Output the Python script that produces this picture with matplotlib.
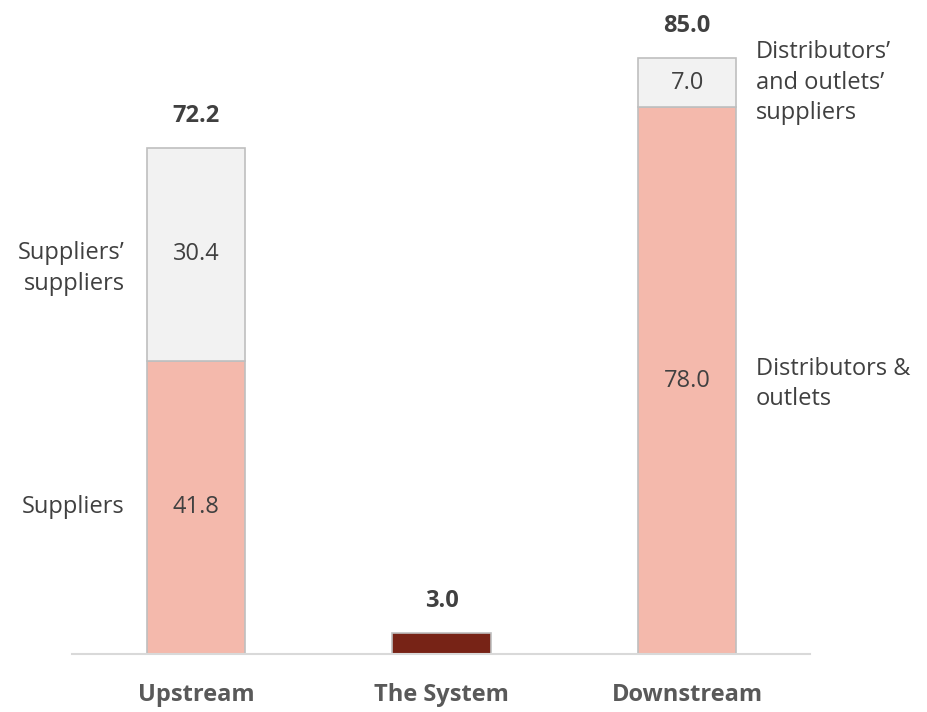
import matplotlib.pyplot as plt

plt.rcParams['font.family'] = ['Open Sans', 'DejaVu Sans']

categories = ['Upstream', 'The System', 'Downstream']
lower = [41.8, 3.0, 78.0]
upper = [30.4, 0.0, 7.0]
totals = [72.2, 3.0, 85.0]

salmon = '#F4B9AC'
light = '#F2F2F2'
dark = '#772316'
edge = '#BFBFBF'
txt = '#404040'

fig = plt.figure(figsize=(9.28, 7.12), dpi=100)
ax = fig.add_axes([72 / 928, 58 / 712, (810 - 72) / 928, 631 / 712])

x = range(len(categories))
w = 0.4
colors = [salmon, dark, salmon]
ax.bar(x, lower, width=w, color=colors, edgecolor=edge, linewidth=1.2, zorder=2)
ax.bar([0, 2], [upper[0], upper[2]], bottom=[lower[0], lower[2]], width=w,
       color=light, edgecolor=edge, linewidth=1.2, zorder=2)

fs = 17

# segment values
for i in (0, 2):
    ax.text(i, lower[i] / 2, f'{lower[i]:.1f}', ha='center', va='center',
            fontsize=fs, color=txt)
    ax.text(i, lower[i] + upper[i] / 2, f'{upper[i]:.1f}', ha='center',
            va='center', fontsize=fs, color=txt)

# totals above bars
for i, t in enumerate(totals):
    ax.text(i, t + 4.6, f'{t:.1f}', ha='center', va='center', fontsize=fs,
            fontweight='bold', color=txt)

# segment names beside the bars
ax.text(-0.29, lower[0] / 2, 'Suppliers', ha='right', va='center',
        fontsize=fs, color=txt)
ax.text(-0.29, lower[0] + upper[0] / 2 - 2.0, 'Suppliers\u2019\nsuppliers',
        ha='right', va='center', fontsize=fs, color=txt, linespacing=1.35)
ax.text(2.28, lower[2] / 2 - 0.5, 'Distributors &\noutlets', ha='left',
        va='center', fontsize=fs, color=txt, linespacing=1.35)
ax.text(2.28, lower[2] + upper[2] / 2, 'Distributors\u2019\nand outlets\u2019\nsuppliers',
        ha='left', va='center', fontsize=fs, color=txt, linespacing=1.35)

ax.set_xlim(-0.505, 2.5)
ax.set_ylim(0, 90)
ax.set_xticks(list(x))
ax.set_xticklabels(categories, fontsize=17, fontweight='bold', color='#595959')
ax.tick_params(axis='x', length=0, pad=21)
ax.set_yticks([])
for s in ('left', 'right', 'top'):
    ax.spines[s].set_visible(False)
ax.spines['bottom'].set_color('#D9D9D9')
ax.spines['bottom'].set_linewidth(1.5)

fig.savefig('out.png', dpi=100)
